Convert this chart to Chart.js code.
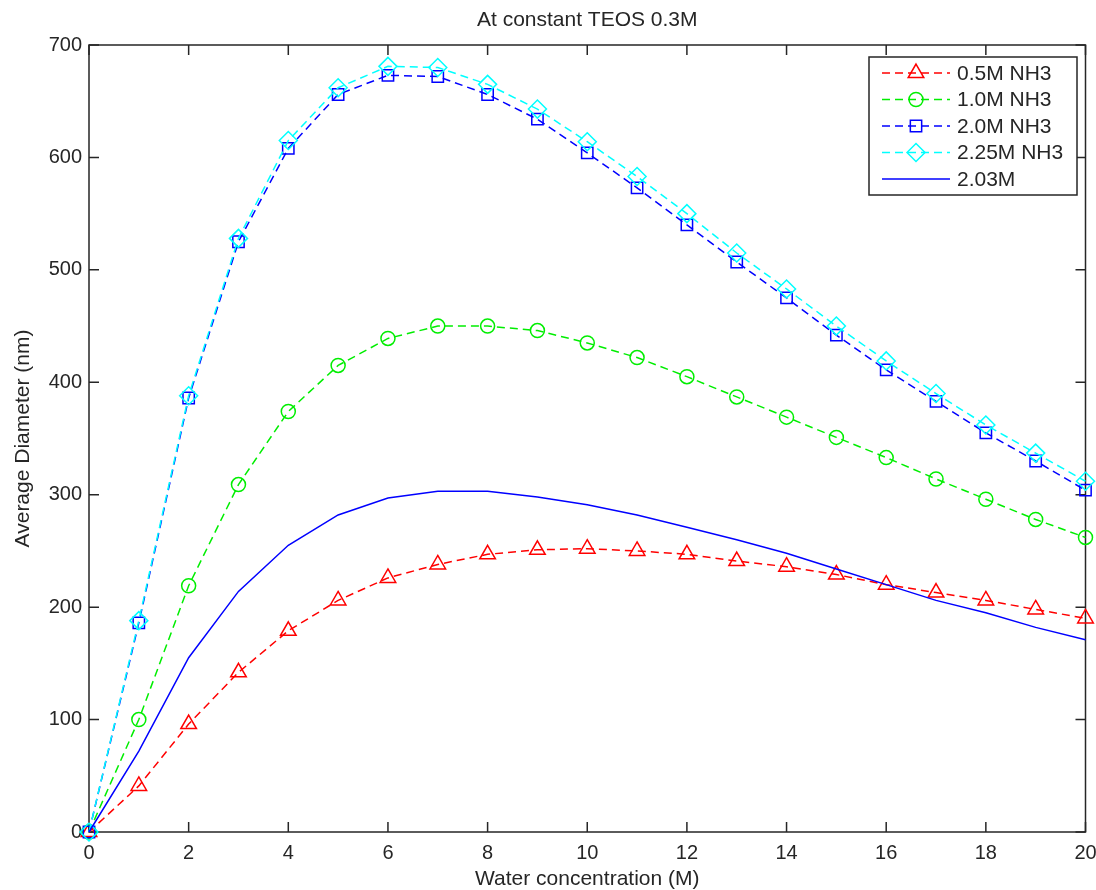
<!DOCTYPE html>
<html><head><meta charset="utf-8">
<script src="https://cdn.jsdelivr.net/npm/chart.js@4/dist/chart.umd.min.js"></script>
<style>html,body{margin:0;padding:0;background:#fff}#wrap{width:1096px;height:890px}</style>
</head><body><div id="wrap"><canvas id="c" width="1096" height="890"></canvas></div>
<script>
// ---- data ----
const water = [0,1,2,3,4,5,6,7,8,9,10,11,12,13,14,15,16,17,18,19,20];
const nh3_05  = [0,41,96,142,179,206,226,238,247,251,252,250,247,241,236,229,220,213,206,198,190];
const nh3_10  = [0,100,219,309,374,415,439,450,450,446,435,422,405,387,369,351,333,314,296,278,262];
const nh3_20  = [0,186,386,525,608,656,673,672,656,634,604,573,540,507,475,442,411,383,355,330,304];
const nh3_225 = [0,188,388,528,615,662,681,680,665,643,614,583,550,515,483,450,419,390,362,337,312];
const nh3_203 = [0,72,155,214,255,282,297,303,303,298,291,282,271,260,248,234,220,206,195,182,171];
const seriesLabels = ['0.5M NH3','1.0M NH3','2.0M NH3','2.25M NH3','2.03M'];
const xTicks = [0,2,4,6,8,10,12,14,16,18,20];
const yTicks = [0,100,200,300,400,500,600,700];
const titleText = 'At constant TEOS 0.3M';
const xTitle = 'Water concentration (M)';
const yTitle = 'Average Diameter (nm)';

// ---- styles ----
const styles = [
  {color:'#ff0000', dash:[8,5], point:'triangle', r:9},
  {color:'#00ee00', dash:[8,5], point:'circle',   r:7},
  {color:'#0000ff', dash:[8,5], point:'rect',     r:8},
  {color:'#00ffff', dash:[8,5], point:'rectRot',  r:9},
  {color:'#0000ff', dash:[],    point:false,      r:0}
];
const seriesValues = [nh3_05, nh3_10, nh3_20, nh3_225, nh3_203];
const AXIS = '#262626';
const FONT = 'Arial, "Liberation Sans", sans-serif';

const datasets = seriesValues.map((vals,i)=>({
  label: seriesLabels[i],
  data: water.map((x,j)=>({x:x, y:vals[j]})),
  borderColor: styles[i].color,
  borderWidth: 1.5,
  borderDash: styles[i].dash,
  pointStyle: styles[i].point,
  pointRadius: styles[i].r,
  pointBorderColor: styles[i].color,
  pointBackgroundColor: 'rgba(0,0,0,0)',
  pointBorderWidth: 1.5,
  tension: 0,
  clip: false,
  order: 5 - i
}));

const framePlugin = {
  id: 'frame',
  beforeDatasetsDraw(chart){
    const {ctx, chartArea:a, scales:{x, y}} = chart;
    ctx.save();
    ctx.strokeStyle = AXIS; ctx.lineWidth = 1.5; ctx.setLineDash([]);
    ctx.strokeRect(a.left, a.top, a.right - a.left, a.bottom - a.top);
    const tl = 10;
    ctx.beginPath();
    x.ticks.forEach(t=>{
      const px = x.getPixelForValue(t.value);
      ctx.moveTo(px, a.bottom); ctx.lineTo(px, a.bottom - tl);
      ctx.moveTo(px, a.top); ctx.lineTo(px, a.top + tl);
    });
    y.ticks.forEach(t=>{
      const py = y.getPixelForValue(t.value);
      ctx.moveTo(a.left, py); ctx.lineTo(a.left + tl, py);
      ctx.moveTo(a.right, py); ctx.lineTo(a.right - tl, py);
    });
    ctx.stroke();
    ctx.restore();
  },
  afterDraw(chart){
    const {ctx, chartArea:a} = chart;
    ctx.save();
    // title
    ctx.fillStyle = AXIS;
    ctx.font = '21px ' + FONT;
    ctx.textAlign = 'center'; ctx.textBaseline = 'middle';
    ctx.fillText(titleText, (a.left + a.right)/2, 20);
    // legend
    const bx = 869, by = 57, bw = 208, bh = 138;
    ctx.fillStyle = '#fff';
    ctx.fillRect(bx, by, bw, bh);
    ctx.strokeStyle = AXIS; ctx.lineWidth = 1.5;
    ctx.strokeRect(bx, by, bw, bh);
    ctx.font = '21px ' + FONT;
    ctx.textAlign = 'left';
    seriesLabels.forEach((lab,i)=>{
      const cy = by + 16 + i*26.5;
      const s = styles[i];
      ctx.strokeStyle = s.color; ctx.lineWidth = 1.5;
      ctx.setLineDash(s.dash);
      ctx.beginPath(); ctx.moveTo(882, cy); ctx.lineTo(950, cy); ctx.stroke();
      ctx.setLineDash([]);
      if (s.point) {
        ctx.fillStyle = 'rgba(0,0,0,0)';
        ctx.strokeStyle = s.color;
        Chart.helpers.drawPoint(ctx, {pointStyle: s.point, radius: s.r, rotation: 0, borderWidth: 1.5}, 916, cy);
      }
      ctx.fillStyle = AXIS;
      ctx.fillText(lab, 957, cy + 1);
    });
    ctx.restore();
  }
};

new Chart(document.getElementById('c'), {
  type: 'line',
  data: { datasets },
  plugins: [framePlugin],
  options: {
    responsive: false,
    devicePixelRatio: 1,
    animation: false,
    layout: { padding: { top: 45, right: 10, left: 0, bottom: 0 } },
    plugins: { legend: {display:false}, title: {display:false}, tooltip: {enabled:false} },
    scales: {
      x: {
        type: 'linear', min: 0, max: 20,
        afterBuildTicks: s => { s.ticks = xTicks.map(v=>({value:v})); },
        afterFit: s => { s.height = 58; s.paddingLeft = 0; s.paddingRight = 0; },
        grid: { display: false, drawTicks: false },
        border: { display: false },
        ticks: { color: AXIS, font: {size: 20, family: FONT}, padding: 9, maxRotation: 0, autoSkip: false },
        title: { display: true, text: xTitle, color: AXIS, font: {size: 21, family: FONT, lineHeight: 1}, padding: {top: 0, bottom: 0} }
      },
      y: {
        min: 0, max: 700,
        afterBuildTicks: s => { s.ticks = yTicks.map(v=>({value:v})); },
        afterFit: s => { s.width = 89; s.paddingTop = 0; s.paddingBottom = 0; },
        grid: { display: false, drawTicks: false },
        border: { display: false },
        ticks: { color: AXIS, font: {size: 20, family: FONT}, padding: 7, autoSkip: false },
        title: { display: true, text: yTitle, color: AXIS, font: {size: 21, family: FONT, lineHeight: 1}, padding: {top: 13, bottom: 0} }
      }
    }
  }
});
</script>
</body></html>
